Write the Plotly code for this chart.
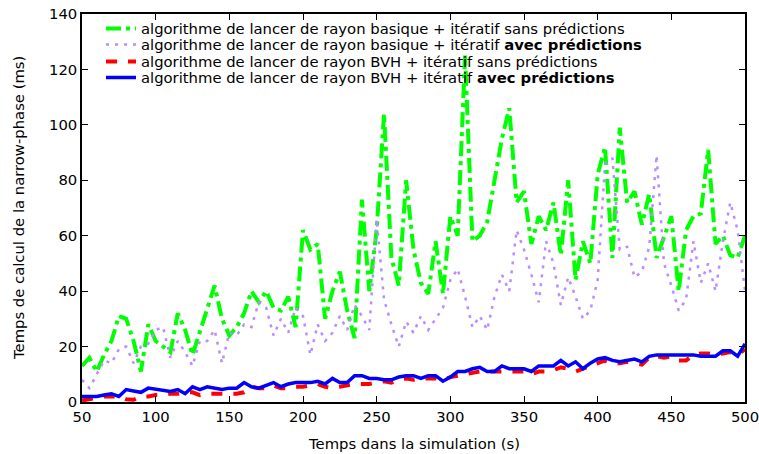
import plotly.graph_objects as go

x = list(range(50, 501, 5))

green = [13, 16, 11, 17, 22, 31, 30, 22, 11, 28, 22, 20, 18, 32, 26, 17, 25, 33, 42, 30,
         24, 27, 32, 40, 36, 40, 34, 33, 38, 27, 62, 55, 57, 30, 40, 47, 33, 23, 73, 40,
         62, 104, 52, 42, 80, 55, 43, 39, 58, 39, 67, 60, 125, 58, 60, 65, 80, 95, 106, 72,
         76, 57, 67, 62, 72, 53, 80, 44, 58, 50, 82, 92, 52, 99, 72, 76, 64, 75, 52, 60,
         67, 40, 62, 67, 68, 91, 57, 60, 53, 52, 60]

purple = [8, 5, 10, 15, 14, 19, 20, 14, 20, 21, 26, 27, 16, 22, 18, 13, 22, 22, 26, 14,
          25, 24, 28, 27, 36, 34, 24, 30, 25, 34, 31, 17, 28, 22, 25, 31, 26, 35, 31, 26,
          66, 37, 28, 20, 29, 25, 31, 26, 30, 34, 44, 48, 38, 27, 31, 26, 38, 46, 40, 62,
          55, 46, 36, 58, 50, 35, 45, 38, 30, 33, 44, 86, 88, 55, 56, 45, 47, 56, 89, 50,
          42, 33, 37, 58, 43, 50, 40, 58, 72, 62, 40]

red = [0.5, 1, 1.5, 2, 2, 2, 1, 0.8, 2, 2, 2.5, 2.5, 3, 3, 3.5, 3.5, 2.5, 3, 3, 3,
       3, 3, 3.5, 5.5, 5, 5, 6, 5, 5, 5.5, 5.5, 6, 6.5, 5.5, 5, 5.5, 6, 6.5, 6.5, 6.5,
       7, 7.5, 7, 8, 8.5, 8, 8.5, 8.5, 8.5, 8, 9, 9.5, 10, 10.5, 11, 11, 11, 11, 11, 11,
       11, 10, 11, 11, 11.5, 12.5, 12, 11, 12, 13, 14, 15, 14, 14, 14.5, 14, 13.5, 16, 16.5, 16,
       16.5, 15, 15, 17, 17.5, 17.5, 17, 17.5, 18, 17, 19]

blue = [2, 2, 2, 2.5, 3, 2, 4.5, 4, 3.5, 5, 4.5, 4.2, 3.8, 4.5, 3, 5.5, 4.5, 5.5, 5, 4.5,
        5, 5, 7, 5.5, 5, 6, 7, 5.5, 6.5, 7, 7, 7, 7.5, 6.5, 8.5, 7, 7, 9.5, 9.5, 8.5,
        8.5, 8, 8, 9, 9.5, 9.5, 8.5, 9.5, 9.5, 7.5, 9, 11, 11, 12, 12.5, 11, 11, 13, 12, 12,
        12, 11, 13, 13, 13, 15, 13, 14.5, 12, 14, 15.5, 16, 15, 14.5, 15, 15.5, 14.5, 16.5, 17, 17,
        17, 17, 17, 17, 16.5, 16.5, 16.5, 18.5, 18.5, 16.5, 21]

names = [
    "algorithme de lancer de rayon basique + itératif sans prédictions",
    "algorithme de lancer de rayon basique + itératif <b>avec prédictions</b>",
    "algorithme de lancer de rayon BVH + itératif sans prédictions",
    "algorithme de lancer de rayon BVH + itératif <b>avec prédictions</b>",
]
x_title = "Temps dans la simulation (s)"
y_title = "Temps de calcul de la narrow-phase (ms)"

FS = 14.8
fig = go.Figure()
fig.add_trace(go.Scatter(x=x, y=green, mode="lines", name=names[0], legend="legend",
                         line=dict(color="#00ff00", width=4, dash="15px,5px,4px,5px")))
fig.add_trace(go.Scatter(x=x, y=purple, mode="lines", name=names[1], legend="legend2",
                         line=dict(color="#b98cff", width=2.5, dash="3px,6px")))
fig.add_trace(go.Scatter(x=x, y=red, mode="lines", name=names[2], legend="legend3",
                         line=dict(color="#ff0000", width=4, dash="11px,11px")))
fig.add_trace(go.Scatter(x=x, y=blue, mode="lines", name=names[3], legend="legend4",
                         line=dict(color="#0000ff", width=3.5)))

axis_common = dict(showline=True, linecolor="black", linewidth=1.5, mirror="allticks",
                   ticks="inside", ticklen=6, tickcolor="black", showgrid=False,
                   zeroline=False, automargin=False, ticklabeloverflow="allow",
                   tickfont=dict(size=FS, color="black"))

def leg(ypx):
    return dict(x=(101 - 82) / 663, y=(402 - ypx) / 388, xanchor="left", yanchor="middle",
                bgcolor="rgba(0,0,0,0)", font=dict(size=FS, color="black"), itemwidth=30)

fig.update_layout(
    width=759, height=454,
    margin=dict(l=82, r=14, t=14, b=52, autoexpand=False),
    paper_bgcolor="white", plot_bgcolor="white",
    font=dict(family="DejaVu Sans", size=FS, color="black"),
    xaxis=dict(range=[50, 500], tickvals=list(range(50, 501, 50)), **axis_common),
    yaxis=dict(range=[0, 140], tickvals=list(range(0, 141, 20)), **axis_common),
    legend=leg(29), legend2=leg(45), legend3=leg(62), legend4=leg(78),
    showlegend=True,
    annotations=[
        dict(text=x_title, xref="paper", yref="paper", x=0.5, y=(402 - 443) / 388,
             xanchor="center", yanchor="middle", showarrow=False, font=dict(size=FS)),
        dict(text=y_title, xref="paper", yref="paper", x=(18 - 82) / 663, y=0.5,
             xanchor="center", yanchor="middle", textangle=-90, showarrow=False,
             font=dict(size=FS)),
    ],
)

fig.write_html("out.html", config={"displayModeBar": False},
               post_script="document.body.style.margin='0';")
